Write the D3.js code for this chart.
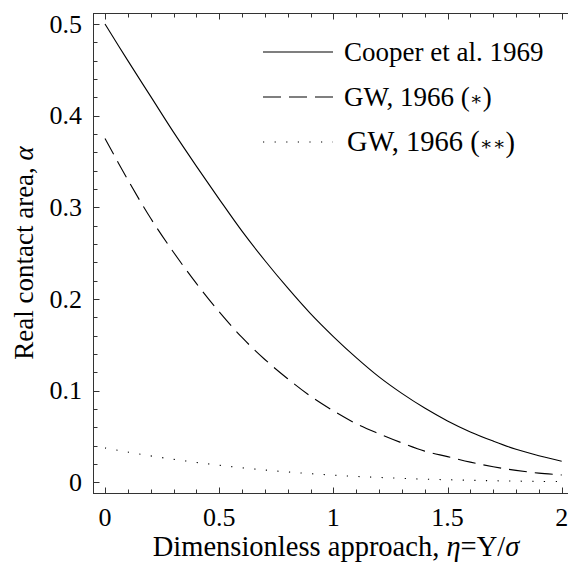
<!DOCTYPE html>
<html>
<head>
<meta charset="utf-8">
<script src="https://cdn.jsdelivr.net/npm/d3@7"></script>
<style>
  body { margin: 0; background: #fff; }
  svg text { font-family: "Liberation Serif", "Times New Roman", serif; fill: #000; }
</style>
</head>
<body>
<svg width="568" height="565"></svg>
<script>
// values, eta = 0, 0.1, ..., 2
const eta = [0, 0.1, 0.2, 0.3, 0.4, 0.5, 0.6, 0.7, 0.8, 0.9, 1.0,
             1.1, 1.2, 1.3, 1.4, 1.5, 1.6, 1.7, 1.8, 1.9, 2.0];
const cooper = [0.500, 0.460, 0.421, 0.382, 0.345, 0.309, 0.274, 0.242, 0.212, 0.184, 0.159,
                0.136, 0.115, 0.097, 0.081, 0.067, 0.055, 0.045, 0.036, 0.029, 0.023];
const gwStar = [0.375, 0.330, 0.288, 0.251, 0.217, 0.186, 0.158, 0.134, 0.113, 0.094, 0.078,
                0.064, 0.053, 0.043, 0.034, 0.028, 0.022, 0.017, 0.013, 0.010, 0.008];
const gwStar2 = [0.0375, 0.0330, 0.0288, 0.0251, 0.0217, 0.0186, 0.0158, 0.0134, 0.0113, 0.0094, 0.0078,
                 0.0064, 0.0053, 0.0043, 0.0034, 0.0028, 0.0022, 0.0017, 0.0013, 0.0010, 0.0008];

// legend label = text + asterisks in brackets
const legendNames = ["Cooper et al. 1969", "GW, 1966 ", "GW, 1966 "];
const legendStars = ["", "\u2217", "\u2217\u2217"];
const xTicks = [0, 0.5, 1, 1.5, 2];
const yTicks = [0, 0.1, 0.2, 0.3, 0.4, 0.5];

const svg = d3.select("svg");

// frame edges
const fLeft = 93, fRight = 568.5, fTop = 13, fBottom = 493;

const x = d3.scaleLinear().domain([0, 2]).range([105, 561.7]);
const y = d3.scaleLinear().domain([0, 0.5]).range([482.3, 24]);

// frame
svg.append("rect")
    .attr("x", fLeft + 0.5).attr("y", fTop + 0.5)
    .attr("width", fRight - fLeft).attr("height", fBottom - fTop)
    .attr("fill", "none").attr("stroke", "#333").attr("stroke-width", 1);

// minor + major ticks (inward)
const xMinor = d3.range(0, 2.001, 0.1);
const yMinor = d3.range(0, 0.5001, 0.02);
const isMajor = (v, step) => Math.abs(v / step - Math.round(v / step)) < 1e-6;

const tickG = svg.append("g").attr("stroke", "#333").attr("stroke-width", 1);
xMinor.forEach(v => {
    const len = isMajor(v, 0.5) ? 6 : 4;
    const px = Math.round(x(v)) + 0.5;
    tickG.append("line").attr("x1", px).attr("x2", px).attr("y1", fBottom + 0.5).attr("y2", fBottom + 0.5 - len);
    tickG.append("line").attr("x1", px).attr("x2", px).attr("y1", fTop + 0.5).attr("y2", fTop + 0.5 + len);
});
yMinor.forEach(v => {
    const len = isMajor(v, 0.1) ? 6 : 4;
    const py = Math.round(y(v)) + 0.5;
    tickG.append("line").attr("y1", py).attr("y2", py).attr("x1", fLeft + 0.5).attr("x2", fLeft + 0.5 + len);
});

// tick labels
svg.append("g").selectAll("text").data(xTicks).join("text")
    .attr("x", d => x(d)).attr("y", 526)
    .attr("text-anchor", "middle").attr("font-size", 26)
    .text(d => d3.format("")(d));

svg.append("g").selectAll("text").data(yTicks).join("text")
    .attr("x", 82).attr("y", d => y(d)).attr("dy", "0.33em")
    .attr("text-anchor", "end").attr("font-size", 26)
    .text(d => d3.format("")(d));

// axis titles
const xt = svg.append("text").attr("x", 336).attr("y", 556)
    .attr("text-anchor", "middle").attr("font-size", 28.5);
xt.append("tspan").text("Dimensionless approach, ");
xt.append("tspan").attr("font-style", "italic").text("\u03b7");
xt.append("tspan").text("=Y/");
xt.append("tspan").attr("font-style", "italic").text("\u03c3");

const yt = svg.append("text")
    .attr("transform", "translate(33,253) rotate(-90)")
    .attr("text-anchor", "middle").attr("font-size", 27);
yt.append("tspan").text("Real contact area, ");
yt.append("tspan").attr("font-style", "italic").text("\u03b1");

// curves
const series = [
    { vals: cooper, dash: null },
    { vals: gwStar, dash: "18,8" },
    { vals: gwStar2, dash: "1.2,10.4" }
];
const line = d3.line()
    .x((d, i) => x(eta[i]))
    .y(d => y(d))
    .curve(d3.curveCatmullRom);

series.forEach(s => {
    svg.append("path")
        .datum(s.vals)
        .attr("fill", "none")
        .attr("stroke", "#000")
        .attr("stroke-width", 1.1)
        .attr("stroke-dasharray", s.dash)
        .attr("d", line);
});

// legend
const legendY = [52, 97, 142];
const leg = svg.append("g");
series.forEach((s, i) => {
    leg.append("line")
        .attr("x1", 263).attr("x2", 333)
        .attr("y1", legendY[i]).attr("y2", legendY[i])
        .attr("stroke", "#000").attr("stroke-width", 1.1)
        .attr("stroke-dasharray", s.dash);
    const t = leg.append("text")
        .attr("x", i === 2 ? 347 : 344).attr("y", legendY[i]).attr("dy", "0.33em")
        .attr("font-size", i === 2 ? 28.5 : 27);
    t.append("tspan").text(legendNames[i]);
    if (legendStars[i]) {
        t.append("tspan").text("(");
        t.append("tspan").attr("font-size", 19).attr("font-family", "DejaVu Serif")
            .attr("dy", "-0.05em").text(legendStars[i]);
        t.append("tspan").attr("dy", "0.05em").text(")");
    }
});
</script>
</body>
</html>
